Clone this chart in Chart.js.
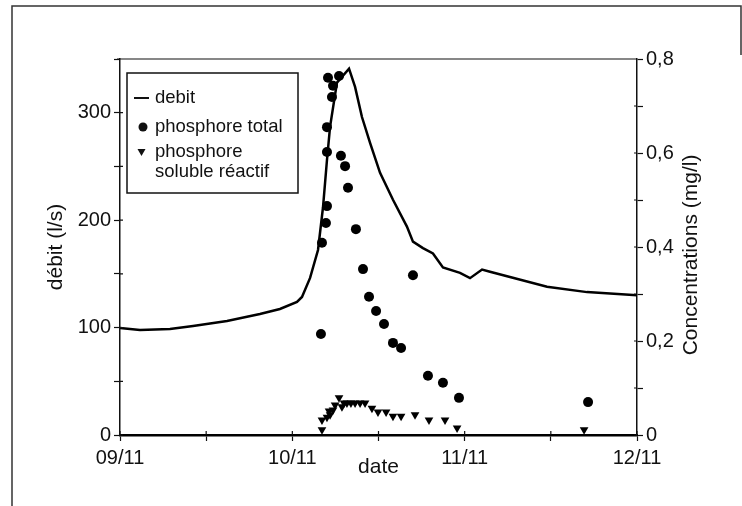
<!DOCTYPE html>
<html>
<head>
<meta charset="utf-8">
<script src="https://cdn.jsdelivr.net/npm/chart.js@4.4.1/dist/chart.umd.min.js"></script>
<style>
  html, body { margin: 0; padding: 0; background: #fff; }
  canvas { display: block; }
</style>
</head>
<body>
<canvas id="chart" width="742" height="506"></canvas>
<script>
// x values are days since 09/11 00:00
var dateLabels = ["09/11", "10/11", "11/11", "12/11"];

var debitDays = [0, 0.116, 0.29, 0.424, 0.621, 0.812, 0.928, 1.027, 1.056, 1.103, 1.149, 1.178, 1.201, 1.219, 1.259, 1.329, 1.364, 1.404, 1.451, 1.509, 1.584, 1.665, 1.7, 1.758, 1.816, 1.874, 1.973, 2.031, 2.101, 2.147, 2.478, 2.71, 3];
var debit = [99.5, 97.7, 98.7, 101.5, 106.1, 112.6, 117.3, 123.8, 128.5, 146.2, 172.2, 212, 256, 287, 328, 341, 324, 296, 272, 244, 219, 194, 180, 174, 169, 156, 151, 146, 154, 152, 138, 133, 130];

var ptDays = [1.166, 1.172, 1.195, 1.201, 1.201, 1.201, 1.207, 1.23, 1.236, 1.271, 1.282, 1.306, 1.323, 1.369, 1.41, 1.445, 1.486, 1.532, 1.584, 1.631, 1.7, 1.787, 1.874, 1.967, 2.716];
var ptConc = [0.215, 0.409, 0.451, 0.487, 0.602, 0.655, 0.76, 0.719, 0.743, 0.764, 0.594, 0.572, 0.526, 0.438, 0.353, 0.294, 0.264, 0.236, 0.196, 0.185, 0.34, 0.126, 0.111, 0.079, 0.07];

var srpDays = [1.172, 1.172, 1.201, 1.219, 1.213, 1.236, 1.248, 1.271, 1.288, 1.3, 1.317, 1.34, 1.364, 1.393, 1.422, 1.462, 1.497, 1.544, 1.584, 1.631, 1.712, 1.793, 1.886, 1.956, 2.693];
var srpConc = [0.011, 0.032, 0.038, 0.043, 0.051, 0.053, 0.064, 0.079, 0.06, 0.068, 0.068, 0.068, 0.068, 0.068, 0.068, 0.057, 0.049, 0.049, 0.04, 0.04, 0.043, 0.032, 0.032, 0.015, 0.011];

var seriesNames = ["debit", "phosphore total", ["phosphore", "soluble réactif"]];
var axisTitles = { x: "date", y: "débit (l/s)", y1: "Concentrations (mg/l)" };

function pts(xs, ys) {
    return xs.map(function (x, i) { return { x: x, y: ys[i] }; });
}

var FONT = '"Liberation Sans", Arial, sans-serif';
var INK = "#111";

// frame, plot top line, inner tick halves, right-hand title and the boxed legend
var decorPlugin = {
    id: "decor",
    afterDraw: function (chart) {
        var ctx = chart.ctx, a = chart.chartArea;
        ctx.save();
        ctx.strokeStyle = "#333";
        ctx.lineWidth = 1.5;
        ctx.beginPath();
        ctx.moveTo(12, 506);
        ctx.lineTo(12, 6);
        ctx.lineTo(741, 6);
        ctx.lineTo(741, 55);
        ctx.stroke();

        ctx.strokeStyle = INK;
        ctx.lineWidth = 1.2;
        ctx.beginPath();
        ctx.moveTo(a.left - 3, a.top);
        ctx.lineTo(a.right, a.top);
        // ticks cross the axes in the original
        chart.scales.y.ticks.forEach(function (t) {
            var py = chart.scales.y.getPixelForValue(t.value);
            ctx.moveTo(a.left, py);
            ctx.lineTo(a.left + 3, py);
        });
        chart.scales.y1.ticks.forEach(function (t) {
            var py = chart.scales.y1.getPixelForValue(t.value);
            ctx.moveTo(a.right, py);
            ctx.lineTo(a.right - 3, py);
        });
        chart.scales.x.ticks.forEach(function (t) {
            var px = chart.scales.x.getPixelForValue(t.value);
            ctx.moveTo(px, a.bottom);
            ctx.lineTo(px, a.bottom - 4);
        });
        ctx.stroke();

        // right axis title reads bottom to top
        ctx.fillStyle = INK;
        ctx.font = "21px " + FONT;
        ctx.textAlign = "center";
        ctx.textBaseline = "middle";
        ctx.translate(691, 255);
        ctx.rotate(-Math.PI / 2);
        ctx.fillText(axisTitles.y1, 0, 0);
        ctx.setTransform(1, 0, 0, 1, 0, 0);

        // legend
        ctx.lineWidth = 1.5;
        ctx.strokeStyle = INK;
        ctx.strokeRect(127, 73, 171, 120);
        ctx.font = "18.5px " + FONT;
        ctx.textAlign = "left";
        ctx.lineWidth = 2;
        ctx.beginPath();
        ctx.moveTo(134, 98);
        ctx.lineTo(149, 98);
        ctx.stroke();
        ctx.fillText(seriesNames[0], 155, 98);
        ctx.beginPath();
        ctx.arc(143, 127, 4.5, 0, Math.PI * 2);
        ctx.fill();
        ctx.fillText(seriesNames[1], 155, 127);
        ctx.beginPath();
        ctx.moveTo(137.5, 149);
        ctx.lineTo(145.5, 149);
        ctx.lineTo(141.5, 156);
        ctx.closePath();
        ctx.fill();
        ctx.fillText(seriesNames[2][0], 155, 152);
        ctx.fillText(seriesNames[2][1], 155, 172);
        ctx.restore();
    }
};

var tickFont = { family: FONT, size: 20 };
var titleFont = { family: FONT, size: 21 };

new Chart(document.getElementById("chart"), {
    type: "scatter",
    data: {
        datasets: [
            {
                label: "debit",
                data: pts(debitDays, debit),
                yAxisID: "y",
                showLine: true,
                borderColor: "#000",
                borderWidth: 2.5,
                pointRadius: 0,
                tension: 0
            },
            {
                label: "phosphore total",
                data: pts(ptDays, ptConc),
                yAxisID: "y1",
                backgroundColor: "#000",
                borderColor: "#000",
                pointRadius: 5,
                borderWidth: 0
            },
            {
                label: "phosphore soluble réactif",
                data: pts(srpDays, srpConc),
                yAxisID: "y1",
                pointStyle: "triangle",
                rotation: 180,
                backgroundColor: "#000",
                borderColor: "#000",
                pointRadius: 5,
                borderWidth: 0
            }
        ]
    },
    options: {
        responsive: false,
        animation: false,
        layout: { padding: { top: 59, left: 0, right: 0, bottom: 0 } },
        plugins: { legend: { display: false }, tooltip: { enabled: false } },
        scales: {
            x: {
                type: "linear",
                min: 0,
                max: 3,
                afterFit: function (s) { s.height = 71; },
                ticks: {
                    stepSize: 0.5,
                    color: INK,
                    font: tickFont,
                    padding: 5,
                    maxRotation: 0,
                    autoSkip: false,
                    callback: function (v) { return Number.isInteger(v) ? dateLabels[v] : ""; }
                },
                grid: { drawOnChartArea: false, tickLength: 6, color: INK, tickWidth: 1.2 },
                border: { color: "#000", width: 2.5 },
                title: { display: true, text: axisTitles.x, color: INK, font: titleFont, padding: { top: 0, bottom: 26 } }
            },
            y: {
                position: "left",
                min: 0,
                max: 350,
                afterFit: function (s) { s.width = 120; },
                ticks: {
                    stepSize: 50,
                    color: INK,
                    font: tickFont,
                    padding: 3,
                    callback: function (v) { return v % 100 === 0 ? v : ""; }
                },
                grid: { drawOnChartArea: false, tickLength: 6, color: INK, tickWidth: 1.2 },
                border: { color: INK, width: 1.5 },
                title: { display: true, text: axisTitles.y, color: INK, font: titleFont, padding: { top: 44, bottom: 0 } }
            },
            y1: {
                position: "right",
                min: 0,
                max: 0.8,
                afterFit: function (s) { s.width = 105; },
                ticks: {
                    stepSize: 0.1,
                    color: INK,
                    font: tickFont,
                    padding: 3,
                    callback: function (v) {
                        var t = Math.round(v * 10);
                        if (t % 2 !== 0) return "";
                        return t === 0 ? "0" : ("0," + t);
                    }
                },
                grid: { drawOnChartArea: false, tickLength: 6, color: INK, tickWidth: 1.2 },
                border: { color: INK, width: 1.5 }
            }
        }
    },
    plugins: [decorPlugin]
});
</script>
</body>
</html>
